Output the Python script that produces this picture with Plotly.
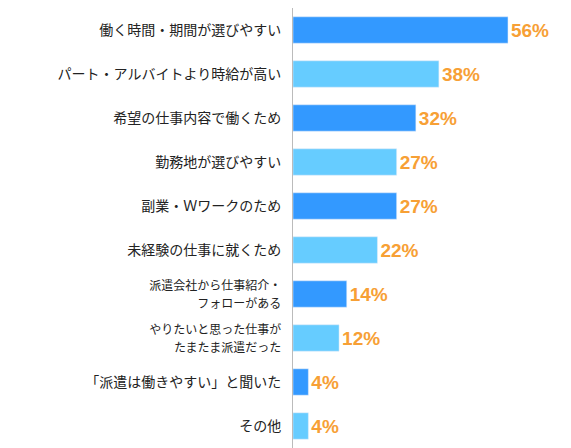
import plotly.graph_objects as go

categories = ["働く時間・期間が選びやすい", "パート・アルバイトより時給が高い", "希望の仕事内容で働くため",
              "勤務地が選びやすい", "副業・Ｗワークのため", "未経験の仕事に就くため",
              "<span style='font-size:12px'>派遣会社から仕事紹介・<br>フォローがある</span>",
              "<span style='font-size:12px'>やりたいと思った仕事が<br>たまたま派遣だった</span>",
              "「派遣は働きやすい」と聞いた", "その他"]
values = [56, 38, 32, 27, 27, 22, 14, 12, 4, 4]
colors = ["#3399ff" if i % 2 == 0 else "#66ccff" for i in range(len(values))]

fig = go.Figure(go.Bar(
    y=categories, x=values, orientation="h", marker_color=colors, width=0.6,
    text=[f"{v}%" for v in values], textposition="outside", cliponaxis=False,
    textfont=dict(color="#f7a035", size=19, family="Liberation Sans", weight="bold"),
))
fig.update_layout(
    width=571, height=448, margin=dict(l=285, r=0, t=0, b=8),
    plot_bgcolor="white", paper_bgcolor="white", showlegend=False,
    font=dict(family="Noto Sans CJK JP", size=14, color="#222"),
    xaxis=dict(range=[0, 74.5], visible=False, automargin=False),
    yaxis=dict(autorange="reversed", showline=True, linecolor="#bbbbbb", linewidth=1,
               ticks="", ticklabelstandoff=8, automargin=False),
)
fig.write_html("out.html")
